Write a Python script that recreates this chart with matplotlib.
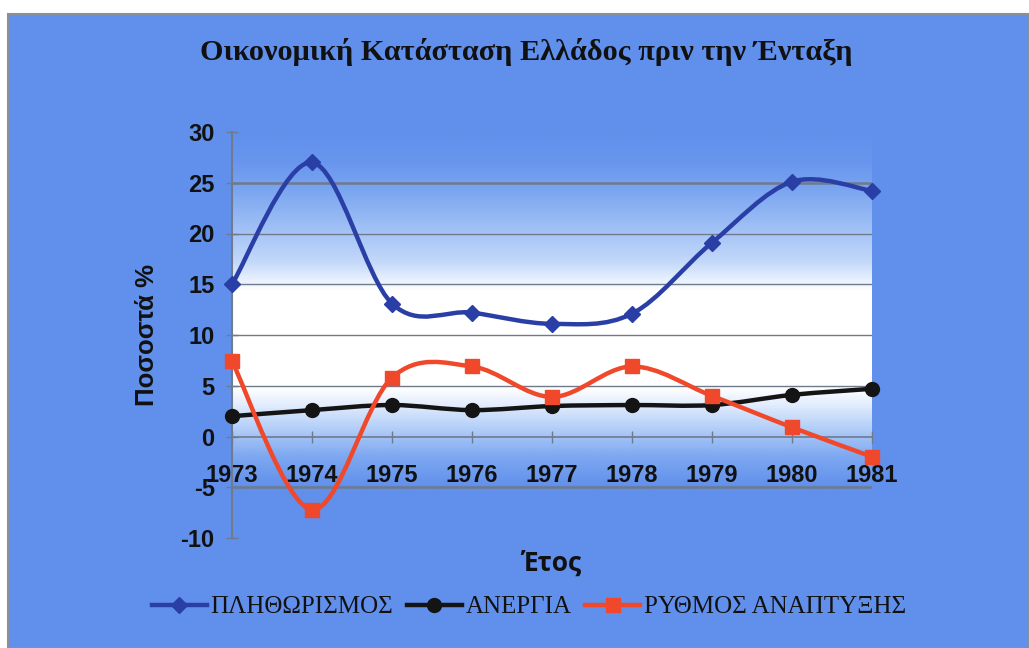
import numpy as np
import matplotlib
matplotlib.use("Agg")
import matplotlib.pyplot as plt
from matplotlib.path import Path
from matplotlib.patches import PathPatch, Rectangle
from matplotlib.lines import Line2D
from matplotlib.colors import LinearSegmentedColormap

plt.rcParams["axes.unicode_minus"] = False

years = [1973, 1974, 1975, 1976, 1977, 1978, 1979, 1980, 1981]
inflation = [15.0, 27.0, 13.1, 12.2, 11.1, 12.1, 19.1, 25.1, 24.2]
unemployment = [2.0, 2.6, 3.1, 2.6, 3.0, 3.1, 3.1, 4.1, 4.7]
growth = [7.4, -7.2, 5.8, 6.9, 3.9, 6.9, 4.0, 0.9, -2.0]

series_names = ["ΠΛΗΘΩΡΙΣΜΟΣ", "ΑΝΕΡΓΙΑ", "ΡΥΘΜΟΣ ΑΝΑΠΤΥΞΗΣ"]
title = "Οικονομική Κατάσταση Ελλάδος πριν την Ένταξη"
ylabel = "Ποσοστά %"
xlabel = "Έτος"
yticks = [-10, -5, 0, 5, 10, 15, 20, 25, 30]

BG = "#6190ec"
colors = ["#2a3fa6", "#141414", "#f0482a"]
markers = ["D", "o", "s"]
msizes = [8, 10, 10]

W, H = 1029, 648
fig = plt.figure(figsize=(W / 100, H / 100), dpi=100)
fig.patch.set_facecolor("white")
fig.add_artist(Rectangle((8 / W, 0), 1 - 8 / W, 1 - 14 / H, transform=fig.transFigure,
                         facecolor=BG, edgecolor="#8a8f99", linewidth=1.5, zorder=-10))

ax = fig.add_axes([232 / W, 1 - 538 / H, 640 / W, 406 / H])
ax.set_facecolor("none")
ax.set_xlim(years[0], years[-1])
ax.set_ylim(-10, 30)

# gradient plot area
stops = [(0.0, BG), (0.125, BG), (0.2, "#7ea8f1"), (0.27, "#b4cff8"), (0.33, "#e4eefd"),
         (0.37, "#ffffff"), (0.61, "#ffffff"), (0.68, "#c4d9fa"), (0.76, "#a2c2f6"),
         (0.86, "#7aa5f0"), (0.93, "#6896ee"), (1.0, BG)]
cmap = LinearSegmentedColormap.from_list("g", stops)
grad = np.linspace(0, 1, 400).reshape(-1, 1)
ax.imshow(grad, cmap=cmap, extent=[years[0], years[-1], -10, 30], origin="lower",
          aspect="auto", zorder=0, interpolation="bilinear")

for yv in yticks:
    if yv in (30, -10, 0):
        continue
    lw = 1.8 if yv in (25, -5) else 1.0
    ax.axhline(yv, color="#6f7a8c", lw=lw, zorder=1)

for s in ["top", "right"]:
    ax.spines[s].set_visible(False)
ax.spines["bottom"].set_position(("data", 0))
ax.spines["bottom"].set_color("#6f7a8c")
ax.spines["bottom"].set_linewidth(1.2)
ax.spines["left"].set_color("#6f7a8c")
ax.spines["left"].set_linewidth(1.5)

ax.set_xticks(years)
ax.set_xticklabels([str(y) for y in years])
ax.set_yticks(yticks)
ax.tick_params(axis="x", direction="inout", length=9, width=1, colors="#6f7a8c",
               labelcolor="#111111", labelsize=17, pad=15)
ax.tick_params(axis="y", direction="inout", length=9, width=1, colors="#6f7a8c",
               labelcolor="#111111", labelsize=17, pad=8)
for lab in ax.get_xticklabels() + ax.get_yticklabels():
    lab.set_fontfamily("Liberation Sans")
    lab.set_fontweight("bold")


def smooth_path(xs, ys):
    pts = np.column_stack([xs, ys]).astype(float)
    n = len(pts)
    verts = [pts[0]]
    codes = [Path.MOVETO]
    for i in range(n - 1):
        p0 = pts[i - 1] if i > 0 else pts[i]
        p1 = pts[i]
        p2 = pts[i + 1]
        p3 = pts[i + 2] if i + 2 < n else pts[i + 1]
        c1 = p1 + (p2 - p0) / 6.0
        c2 = p2 - (p3 - p1) / 6.0
        verts += [c1, c2, p2]
        codes += [Path.CURVE4] * 3
    return Path(verts, codes)


handles = []
for vals, c, m, ms, name in zip([inflation, unemployment, growth], colors, markers, msizes, series_names):
    ax.add_patch(PathPatch(smooth_path(years, vals), facecolor="none", edgecolor=c,
                           linewidth=3.2, zorder=3, capstyle="round", joinstyle="round"))
    ax.plot(years, vals, linestyle="none", marker=m, markersize=ms, color=c, zorder=4,
            clip_on=False)
    handles.append(Line2D([], [], color=c, lw=3.2, marker=m, markersize=ms, label=name))

ax.set_ylabel(ylabel, fontsize=18.5, fontweight="bold", family="Liberation Sans", color="#111111")
ax.yaxis.set_label_coords((147 - 232) / 640, 0.5)
ax.yaxis.label.set_va("center")
ax.set_xlabel(xlabel, fontsize=19, fontweight="bold", family="Open Sans", color="#111111")
ax.xaxis.set_label_coords((551 - 232) / 640, (538 - 563) / 406)
ax.xaxis.label.set_va("center")

fig.text(526 / W, 1 - 52 / H, title, ha="center", va="center", fontsize=21.8,
         fontweight="bold", family="Liberation Serif", color="#111111")

fig.legend(handles=handles, loc="center", bbox_to_anchor=(529 / W, 1 - 607 / H), ncol=3,
           frameon=False, prop={"family": "Liberation Serif", "size": 18},
           handlelength=2.2, handletextpad=0.15, columnspacing=0.55, labelcolor="#111111")

fig.savefig("out.png", dpi=100, facecolor=fig.get_facecolor())
